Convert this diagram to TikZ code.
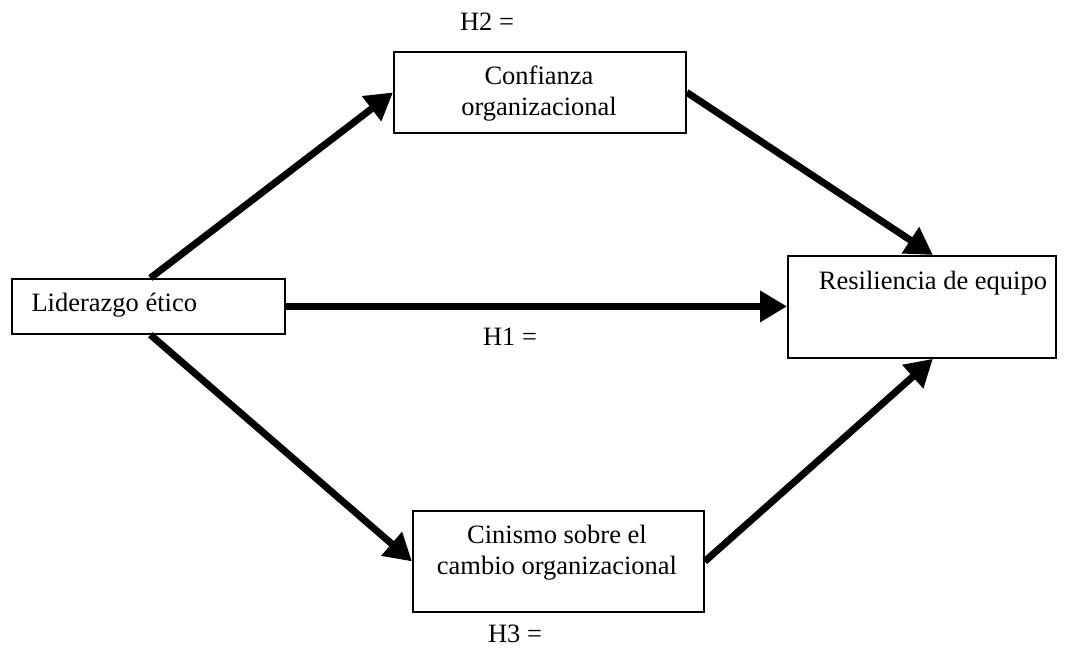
\documentclass[tikz,border=0pt]{standalone}
\usepackage{fontspec}
\setmainfont{Liberation Serif}
\usetikzlibrary{arrows.meta,calc}
\begin{document}
\begin{tikzpicture}[x=1pt,y=-1pt,
  box/.style={draw,line width=1.8pt,inner sep=0pt,anchor=north west},
  txt/.style={font=\fontsize{26.5}{31}\selectfont,align=center},
  arr/.style={line width=7pt,-{Triangle[length=27pt,width=30pt]}}]
\useasboundingbox (0,0) rectangle (1066,648);
\node[box,minimum width=273pt,minimum height=55pt] (L) at (11,278) {};
\node[txt,anchor=west] (Lt) at (28,305) {Liderazgo ético};
\node[box,minimum width=292pt,minimum height=81pt] (C) at (393,51) {};
\node[txt] (Ct) at (539,94) {Confianza\\organizacional};
\node[box,minimum width=268pt,minimum height=102pt] (R) at (787,255) {};
\node[txt] (Rt) at (933,283) {Resiliencia de equipo};
\node[box,minimum width=291pt,minimum height=101pt] (Ci) at (412,510) {};
\node[txt] (Cit) at (557,553) {Cinismo sobre el\\cambio organizacional};
\node[txt] (H2) at (487,22) {H2 =};
\node[txt] (H1) at (510,337) {H1 =};
\node[txt] (H3) at (515,634) {H3 =};
\draw[arr] ([xshift=2pt]L.north) -- (C.west);
\draw[arr] (C.east) -- ([xshift=11pt]R.north);
\draw[arr] (L.east) -- (L.east -| R.west);
\draw[arr] ([xshift=2pt]L.south) -- (Ci.west);
\draw[arr] (Ci.east) -- ([xshift=11pt]R.south);
\end{tikzpicture}
\end{document}
